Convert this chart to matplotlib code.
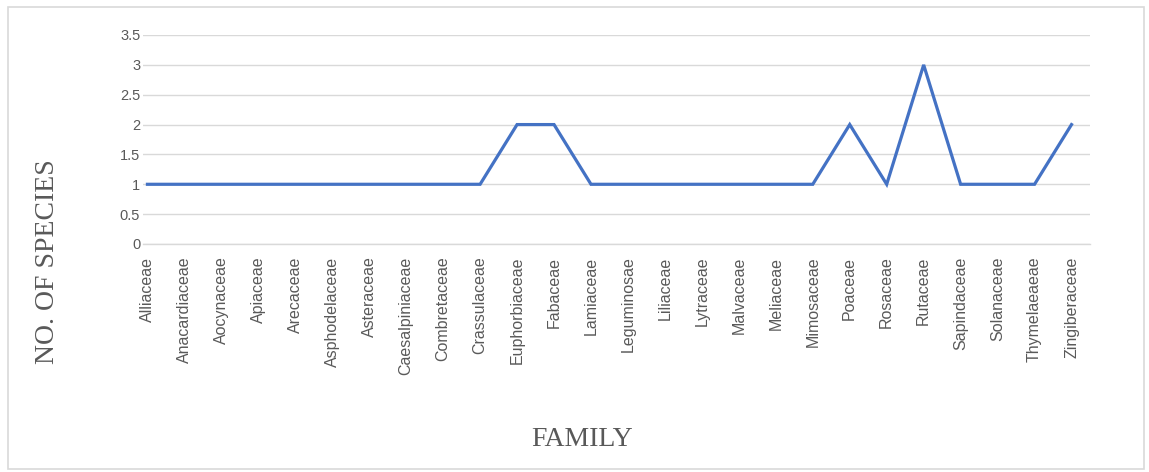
import matplotlib
matplotlib.use("Agg")
import matplotlib.pyplot as plt
import numpy as np

# familias e numero de especies
families = ["Alliaceae", "Anacardiaceae", "Aocynaceae", "Apiaceae", "Arecaceae",
            "Asphodelaceae", "Asteraceae", "Caesalpiniaceae", "Combretaceae",
            "Crassulaceae", "Euphorbiaceae", "Fabaceae", "Lamiaceae", "Leguminosae",
            "Liliaceae", "Lytraceae", "Malvaceae", "Meliaceae", "Mimosaceae",
            "Poaceae", "Rosaceae", "Rutaceae", "Sapindaceae", "Solanaceae",
            "Thymelaeaeae", "Zingiberaceae"]
species = [1, 1, 1, 1, 1, 1, 1, 1, 1, 1, 2, 2, 1, 1, 1, 1, 1, 1, 1,
           2, 1, 3, 1, 1, 1, 2]
yticks = [0, 0.5, 1, 1.5, 2, 2.5, 3, 3.5]

W, H = 1149, 472
fig = plt.figure(figsize=(W / 100, H / 100), dpi=100)
fig.patch.set_facecolor("white")

# moldura cinza clara
border = plt.Rectangle((8 / W, 1 - 469 / H), (1144 - 8) / W, (469 - 7) / H,
                       transform=fig.transFigure, fill=False,
                       edgecolor="#d9d9d9", linewidth=1.2)
fig.patches.append(border)

ax = fig.add_axes([143 / W, 1 - 244 / H, (1090 - 143) / W, (244 - 35) / H])

x = np.arange(len(families))
ax.plot(x, species, color="#4472c4", linewidth=2.3, solid_joinstyle="miter")

ax.set_xlim(-0.12, 25.5)
ax.set_ylim(0, 3.5)
ax.set_yticks(yticks)
ax.set_yticklabels(["0", "0.5", "1", "1.5", "2", "2.5", "3", "3.5"])
ax.set_xticks(x)
ax.set_xticklabels(families, rotation=90, va="top", ha="center")

ax.grid(axis="y", color="#d9d9d9", linewidth=1.0)
ax.set_axisbelow(True)
for s in ["top", "right", "left"]:
    ax.spines[s].set_visible(False)
ax.spines["bottom"].set_color("#d9d9d9")
ax.spines["bottom"].set_linewidth(1.0)
ax.tick_params(axis="both", length=0, colors="#595959")
ax.tick_params(axis="x", pad=9, labelsize=11.5, labelfontfamily="Liberation Sans")
ax.tick_params(axis="y", pad=2, labelsize=10.5, labelfontfamily="Liberation Sans")

fig.text(48 / W, 1 - 262 / H, "NO. OF SPECIES", rotation=90, ha="center",
         va="center", family="Liberation Serif", fontsize=20, color="#595959")
fig.text(582 / W, 1 - 440 / H, "FAMILY", ha="center", va="center",
         family="Liberation Serif", fontsize=20, color="#595959")

fig.savefig("out.png", dpi=100)
